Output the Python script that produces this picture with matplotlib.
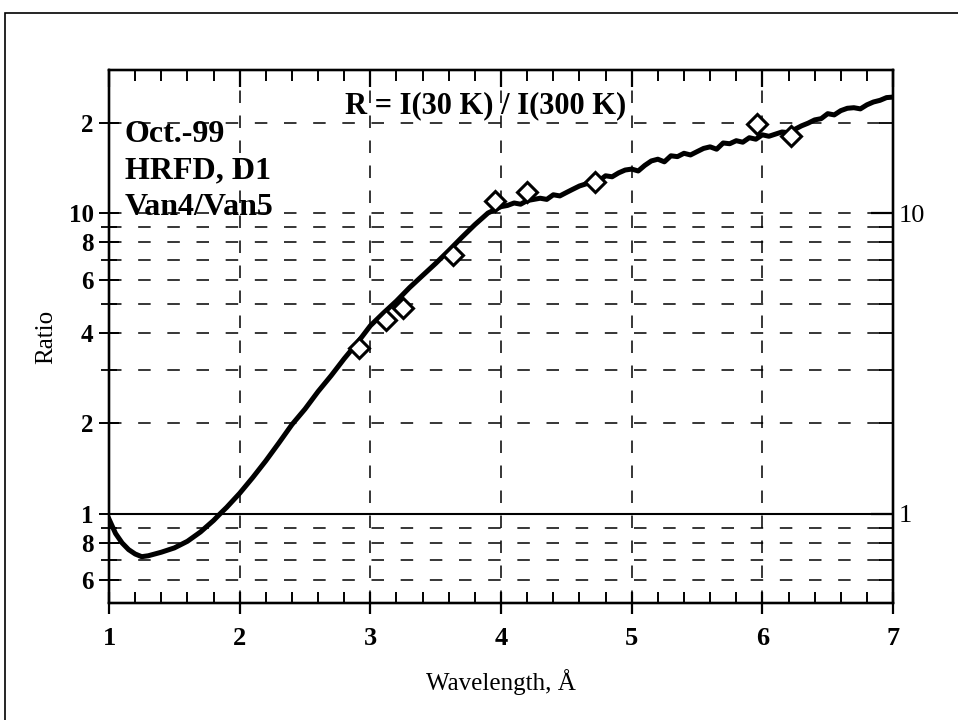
import numpy as np
import matplotlib

matplotlib.use("Agg")
import matplotlib.pyplot as plt
from matplotlib.patches import Rectangle
from matplotlib.ticker import FixedLocator, FixedFormatter, NullFormatter

plt.rcParams["font.family"] = ["Liberation Serif", "DejaVu Serif"]
plt.rcParams["lines.scale_dashes"] = False

# ratio curve R = I(30 K) / I(300 K)
wavelength = [1.00, 1.05, 1.10, 1.15, 1.20, 1.25, 1.30, 1.40, 1.50, 1.60,
              1.70, 1.80, 1.85, 1.90, 2.00, 2.10, 2.20, 2.30, 2.40, 2.50,
              2.60, 2.70, 2.80, 2.90, 3.00, 3.10, 3.20, 3.30, 3.40, 3.50,
              3.60, 3.70, 3.80, 3.90, 4.00, 4.05, 4.10, 4.15, 4.20, 4.25,
              4.30, 4.35, 4.40, 4.45, 4.50, 4.55, 4.60, 4.65, 4.70, 4.75,
              4.80, 4.85, 4.90, 4.95, 5.00, 5.05, 5.10, 5.15, 5.20, 5.25,
              5.30, 5.35, 5.40, 5.45, 5.50, 5.55, 5.60, 5.65, 5.70, 5.75,
              5.80, 5.85, 5.90, 5.95, 6.00, 6.05, 6.10, 6.15, 6.20, 6.25,
              6.30, 6.35, 6.40, 6.45, 6.50, 6.55, 6.60, 6.65, 6.70, 6.75,
              6.80, 6.85, 6.90, 6.95, 7.00]
ratio = [0.96, 0.86, 0.80, 0.76, 0.735, 0.72, 0.725, 0.745, 0.77, 0.81,
         0.87, 0.95, 1.00, 1.05, 1.17, 1.32, 1.50, 1.72, 1.98, 2.23,
         2.55, 2.88, 3.28, 3.70, 4.22, 4.65, 5.10, 5.65, 6.20, 6.80,
         7.50, 8.30, 9.15, 10.0, 10.5, 10.6, 10.8, 10.7, 11.0, 11.1,
         11.2, 11.1, 11.5, 11.4, 11.7, 12.0, 12.3, 12.5, 12.9, 12.8,
         13.3, 13.2, 13.6, 13.9, 14.0, 13.8, 14.4, 14.9, 15.1, 14.8,
         15.5, 15.4, 15.8, 15.6, 16.0, 16.4, 16.6, 16.3, 17.1, 17.0,
         17.4, 17.2, 17.8, 17.6, 18.2, 18.0, 18.3, 18.6, 18.5, 19.0,
         19.5, 19.9, 20.4, 20.6, 21.4, 21.2, 21.9, 22.3, 22.4, 22.2,
         22.9, 23.4, 23.7, 24.2, 24.3]

# measured points (diamonds)
pts_x = [2.915, 3.12, 3.25, 3.63, 3.955, 4.20, 4.72, 5.96, 6.22]
pts_y = [3.57, 4.40, 4.83, 7.23, 11.0, 11.75, 12.7, 19.7, 18.0]

left_ticks = [0.6, 0.8, 1, 2, 4, 6, 8, 10, 20]
left_labels = ["6", "8", "1", "2", "4", "6", "8", "10", "2"]
left_minor = [0.7, 0.9, 3, 5, 7, 9]
right_ticks = [1, 10]
right_labels = ["1", "10"]
right_minor = [0.6, 0.7, 0.8, 0.9, 2, 3, 4, 5, 6, 7, 8, 9, 20]
grid_y = [0.6, 0.7, 0.8, 0.9, 2, 3, 4, 5, 6, 7, 8, 9, 10, 20]
grid_x = [2, 3, 4, 5, 6]
x_major = [1, 2, 3, 4, 5, 6, 7]

fig = plt.figure(figsize=(9.58, 7.2), dpi=100)
ax = fig.add_axes([0.1138, 0.1625, 0.8184, 0.7403])

# outer frame of the scanned page
fig.patches.append(Rectangle((5 / 958, -0.2), 1.2, 1.2 - 13 / 720,
                             transform=fig.transFigure, fill=False,
                             lw=1.2, ec="black"))

ax.set_yscale("log")
ax.set_xlim(1, 7)
ax.set_ylim(0.505, 29.9)

for gy in grid_y:
    ax.axhline(gy, color="black", lw=1.1, dashes=(9, 12), zorder=1)
for gx in grid_x:
    ax.axvline(gx, color="black", lw=1.1, dashes=(9, 9), zorder=1)
ax.axhline(1, color="black", lw=1.5, zorder=1)

ax.plot(wavelength, ratio, color="black", lw=3.6, solid_joinstyle="round", zorder=3)
ax.plot(pts_x, pts_y, linestyle="none", marker="D", markersize=10,
        markerfacecolor="white", markeredgecolor="black", markeredgewidth=2.2, zorder=4)

for s in ax.spines.values():
    s.set_linewidth(1.6)

# bottom x ticks
ax.xaxis.set_major_locator(FixedLocator(x_major))
ax.xaxis.set_minor_locator(FixedLocator(np.arange(1, 7.01, 0.2)))
ax.tick_params(axis="x", which="major", direction="inout", length=16, width=1.6,
               top=False, labelsize=19, pad=9)
ax.tick_params(axis="x", which="minor", direction="in", length=8, width=1.4, top=False)
for lab in ax.get_xticklabels():
    lab.set_fontweight("bold")

# top x ticks (inward only)
axt = ax.twiny()
axt.set_xlim(ax.get_xlim())
axt.xaxis.set_major_locator(FixedLocator(x_major))
axt.xaxis.set_minor_locator(FixedLocator(np.arange(1, 7.01, 0.2)))
axt.tick_params(axis="x", which="major", direction="in", length=12, width=1.6,
                labeltop=False)
axt.tick_params(axis="x", which="minor", direction="in", length=8, width=1.4)

# left y ticks
ax.yaxis.set_major_locator(FixedLocator(left_ticks))
ax.yaxis.set_major_formatter(FixedFormatter(left_labels))
ax.yaxis.set_minor_locator(FixedLocator(left_minor))
ax.yaxis.set_minor_formatter(NullFormatter())
ax.tick_params(axis="y", which="major", direction="inout", length=14, width=1.4,
               labelsize=18, pad=4, right=False)
ax.tick_params(axis="y", which="minor", direction="inout", length=12, width=1.3, right=False)
for lab in ax.get_yticklabels():
    lab.set_fontweight("bold")

# right y ticks
ax2 = ax.twinx()
ax2.set_yscale("log")
ax2.set_ylim(ax.get_ylim())
ax2.yaxis.set_major_locator(FixedLocator(right_ticks))
ax2.yaxis.set_major_formatter(FixedFormatter(right_labels))
ax2.yaxis.set_minor_locator(FixedLocator(right_minor))
ax2.yaxis.set_minor_formatter(NullFormatter())
ax2.tick_params(axis="y", which="major", direction="in", length=16, width=1.6,
                labelsize=19, pad=4)
ax2.tick_params(axis="y", which="minor", direction="in", length=10, width=1.3)
for a in (ax2, axt):
    for s in a.spines.values():
        s.set_linewidth(1.6)

ax.set_xlabel("Wavelength, Å", fontsize=18, labelpad=14)
ax.set_ylabel("Ratio", fontsize=18, labelpad=8)

ax.text(0.02, 0.865, "Oct.-99", transform=ax.transAxes, fontsize=23,
        fontweight="bold", va="baseline", ha="left", zorder=5)
ax.text(0.02, 0.797, "HRFD, D1", transform=ax.transAxes, fontsize=23,
        fontweight="bold", va="baseline", ha="left", zorder=5)
ax.text(0.02, 0.728, "Van4/Van5", transform=ax.transAxes, fontsize=23,
        fontweight="bold", va="baseline", ha="left", zorder=5)
ax.text(0.301, 0.919, "R = I(30 K) / I(300 K)", transform=ax.transAxes,
        fontsize=22, fontweight="bold", va="baseline", ha="left", zorder=5)

fig.savefig("out.png", dpi=100)
